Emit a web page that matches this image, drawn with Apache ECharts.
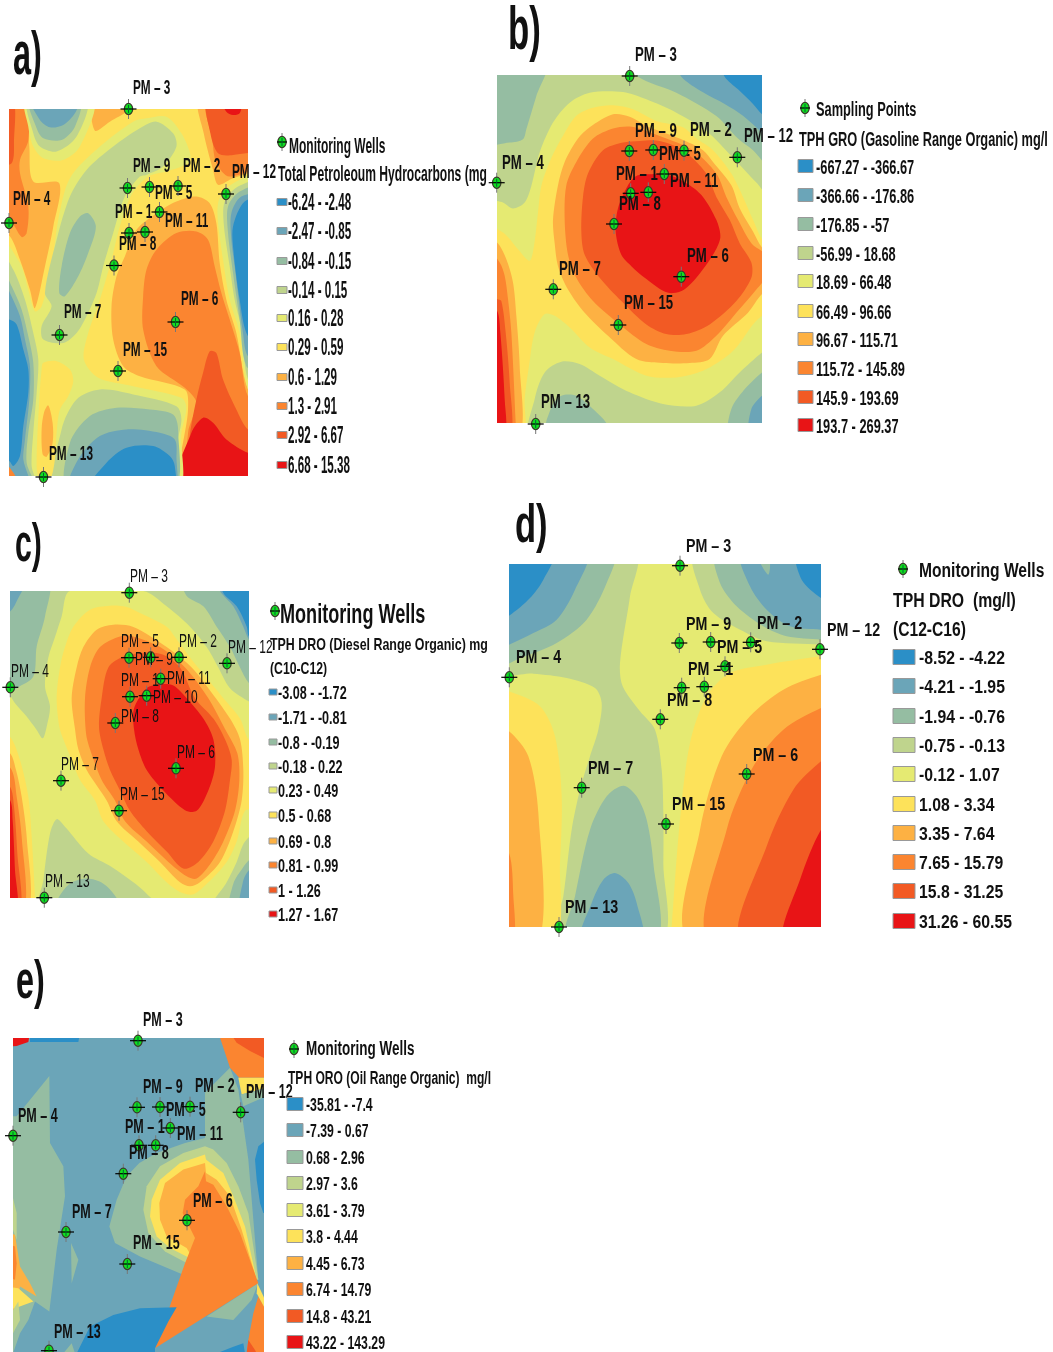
<!DOCTYPE html>
<html><head><meta charset="utf-8">
<style>html,body{margin:0;padding:0;background:#fff}#c{width:1053px;height:1352px}</style>
<script src="https://cdn.jsdelivr.net/npm/echarts@6/dist/echarts.min.js"></script>
</head><body><div id="c"></div>
<script>
const classColors=['#2b8fc7','#6ba5b8','#95bda2','#bfd48d','#e5ea72','#fde25a','#fdb143','#fb8530','#f25a24','#e81416'];

// Contour bands: [class, x,y, x,y, ...] in map units, painted in order.
const contoursA=[
[6,280,300,285,392,330,365,385,330,390,300],
[6,-10,300,78,300,88,440,100,545,178,550,160,680,135,800,105,925,90,870,60,780,30,710,-10,690],
[7,-10,300,78,300,85,420,60,480,60,520,85,620,80,700,65,712,30,660,-10,640],
[8,-10,300,40,300,42,420,35,490,-10,490],
[6,600,300,612,400,640,510,655,555,690,540,790,490,790,300],
[7,622,300,638,420,650,490,690,530,790,480,790,300],
[8,625,300,632,400,655,460,700,465,790,440,790,300],
[9,665,300,680,335,700,345,720,340,725,300],
[6,375,770,410,690,470,640,530,605,590,590,630,610,650,670,660,790,680,900,710,1000,745,1170,790,1200,790,1470,550,1470,565,1225,555,1170,420,1130,370,1100,340,1020,335,920,350,830],
[7,440,810,470,750,530,700,590,695,625,720,645,800,665,880,690,960,720,1060,745,1190,790,1200,790,1470,570,1470,565,1300,590,1210,555,1165,470,1100,430,990,430,890],
[8,590,1200,610,1120,630,1055,650,1060,670,1140,710,1230,745,1290,790,1300,790,1470,560,1470,570,1310],
[9,530,1470,575,1300,610,1255,640,1270,680,1320,745,1360,790,1365,790,1470],
[4,-10,705,60,790,85,870,105,935,125,920,155,800,175,660,210,535,300,440,400,365,440,355,500,350,545,400,572,465,565,490,500,515,445,530,395,585,360,680,335,780,300,900,265,1000,252,1080,295,1135,400,1160,545,1195,560,1225,545,1300,530,1470,-10,1470],
[4,78,300,85,380,100,440,130,475,190,480,240,440,280,300],
[4,790,515,720,540,675,570,655,610,655,670,670,780,690,900,720,1000,745,1170,790,1190],
[3,530,440,490,500,440,525,420,530,375,590,340,700,310,800,290,880,255,960,230,1000,190,1030,130,1020,125,980,155,920,135,880,170,720,210,590,260,510,340,440,420,385,470,365,520,400],
[3,170,1470,185,1290,230,1200,300,1170,400,1185,530,1220,545,1260,530,1340,520,1470],
[3,85,300,100,400,120,440,170,455,230,410,260,300],
[3,790,545,715,560,675,605,672,670,690,800,705,900,728,1000,745,1140,790,1160],
[3,-10,740,40,810,75,900,100,1000,115,1080,110,1180,100,1300,95,1400,110,1470,-10,1470],
[2,90,300,110,385,130,415,185,420,225,380,240,300],
[2,265,640,240,650,210,700,185,800,178,880,195,890,235,830,265,760,288,680],
[2,205,1470,210,1330,270,1250,350,1225,450,1230,520,1245,535,1290,520,1470],
[2,790,560,720,575,685,620,685,700,700,820,720,960,740,1100,790,1120],
[2,-10,770,35,860,65,930,85,1010,100,1090,100,1200,85,1300,80,1390,105,1470,-10,1470],
[1,95,300,120,360,150,382,190,375,225,340,235,300],
[1,210,1470,235,1380,300,1310,380,1290,480,1300,525,1320,530,1370,520,1470],
[1,790,590,725,590,695,640,695,720,705,800,730,1000,745,1070,790,1080],
[1,-10,795,30,880,60,950,75,1020,90,1100,88,1200,75,1320,70,1380,90,1470,-10,1470],
[0,268,1470,320,1390,380,1345,460,1340,510,1370,525,1400,520,1470],
[0,790,600,735,605,700,680,702,760,720,900,745,1010,790,1020],
[0,-10,960,27,960,50,975,70,1050,85,1110,85,1180,70,1280,60,1370,40,1400,27,1385,-10,1385],
[5,125,1110,130,1090,170,1085,210,1110,220,1145,205,1190,180,1230,170,1300,165,1380,150,1440,120,1440,110,1400,118,1200],
[6,145,1218,158,1270,158,1330,140,1372,128,1365,125,1290,132,1240],
[7,-10,1395,25,1400,60,1470,-10,1470]
];
const contoursB=[
[3,-10,190,850,190,850,600,800,550,725,470,650,395,560,340,470,300,400,278,300,280,240,310,190,370,150,460,125,560,105,610,70,628,40,610,-10,590],
[3,125,1310,135,1200,165,1120,215,1088,270,1095,330,1130,420,1180,520,1215,620,1220,690,1180,750,1120,817,1060,850,1040,850,1310],
[2,-10,190,170,190,140,290,110,390,100,420,60,430,-10,430],
[2,430,190,445,232,560,280,680,350,745,418,790,453,850,510,850,190],
[2,170,1310,185,1225,215,1190,260,1190,310,1230,350,1272,360,1310],
[2,720,1310,725,1230,770,1165,817,1120,850,1100,850,1310],
[1,565,190,575,232,640,279,705,314,760,349,817,400,850,430,850,190],
[1,780,1310,785,1230,817,1190,850,1170,850,1310],
[0,695,190,705,232,745,270,790,314,817,345,850,370,850,190],
[5,-10,685,40,700,85,750,120,785,133,740,145,640,155,560,180,488,215,418,260,349,310,325,370,318,430,330,500,365,580,384,620,418,670,453,725,523,760,593,790,662,817,720,850,750,850,930,817,950,790,976,740,1045,700,1080,640,1115,560,1135,470,1130,370,1080,300,1045,240,985,195,950,165,945,135,1000,118,1100,105,1200,100,1310,-10,1310],
[6,370,345,300,384,265,418,225,488,205,558,190,662,195,732,205,801,235,871,285,941,355,1010,440,1080,520,1092,600,1092,660,1080,700,1010,775,941,817,885,850,870,850,770,817,745,790,697,750,627,725,558,670,488,640,453,570,418,480,384,420,352],
[7,420,382,370,388,310,418,260,488,230,558,225,662,235,767,260,836,310,906,390,976,470,1035,540,1055,620,1055,680,1010,740,941,800,871,830,830,830,770,785,732,745,662,710,593,680,523,610,453,530,418,470,395],
[8,450,425,400,430,340,453,295,523,280,593,275,697,285,767,330,836,395,906,470,976,530,1005,590,1005,660,976,740,906,785,836,785,790,750,732,720,662,680,593,650,523,580,453,510,425],
[9,485,525,440,530,415,558,385,627,378,697,395,767,425,801,465,836,520,875,550,882,585,870,620,836,670,767,692,715,680,662,640,593,600,558,540,528],
[6,-10,725,22,730,50,780,70,850,80,950,90,1100,90,1310,-10,1310],
[7,-10,748,30,790,45,830,55,900,65,1000,78,1272,78,1310,-10,1310],
[8,-10,880,22,900,35,906,48,1000,60,1150,62,1310,-10,1310],
[9,-10,930,22,935,32,1000,45,1200,45,1310,-10,1310]
];
const contoursC=[
[3,-10,180,780,180,780,560,747,545,690,505,655,443,620,382,570,321,500,260,430,214,210,214,185,290,165,352,145,413,135,500,150,560,140,620,128,655,110,630,80,590,45,550,30,528,-10,505],
[3,120,1170,130,1080,150,940,170,897,195,920,265,1000,335,1040,400,1086,440,1120,480,1170],
[3,630,1170,680,1086,710,1025,735,964,780,930,780,1170],
[2,-10,180,145,180,135,290,110,380,100,470,50,505,30,520,-10,525],
[2,550,180,560,229,610,260,650,321,690,382,720,443,747,490,780,510,780,180],
[2,165,1170,175,1133,210,1090,260,1075,310,1090,350,1133,360,1170],
[2,690,1170,700,1090,730,1040,747,1020,780,1000,780,1170],
[1,-10,180,75,180,50,245,30,275,-10,280],
[1,655,180,660,214,700,260,730,321,747,360,780,395,780,180],
[1,720,1170,730,1080,747,1050,780,1030,780,1170],
[0,665,180,670,220,710,260,740,320,747,350,780,370,780,180],
[5,330,258,270,270,220,321,195,382,180,443,170,535,178,620,190,658,215,719,240,780,285,841,310,903,370,964,440,1025,500,1086,540,1115,580,1122,625,1086,680,1025,710,964,735,872,780,860,780,680,745,658,720,596,670,535,620,474,570,413,525,352,500,321,420,280,380,262],
[6,340,315,290,330,250,382,230,443,215,535,225,627,235,688,260,750,320,841,350,903,415,964,480,1025,540,1086,570,1098,600,1086,660,1025,700,933,725,841,730,750,720,658,690,596,625,505,575,443,500,382,400,322],
[7,360,350,300,382,270,443,255,535,258,640,270,688,305,780,345,841,375,903,440,964,505,1025,560,1068,590,1075,635,1025,670,964,705,872,718,780,712,700,675,627,625,535,555,443,480,382,400,350],
[8,440,398,370,410,325,443,305,535,297,620,310,688,330,750,360,811,390,872,440,933,500,994,550,1045,595,1025,640,964,675,872,690,780,695,719,675,658,640,596,585,535,540,443,490,405],
[9,480,493,440,505,402,566,402,627,415,688,440,750,490,811,555,870,590,872,625,811,645,740,640,658,610,596,560,535,520,497],
[5,-10,640,30,650,60,720,85,830,95,950,105,1133,105,1170,-10,1170],
[6,-10,690,30,700,48,750,65,830,80,950,85,1170,-10,1170],
[7,-10,715,35,750,50,830,65,950,72,1170,-10,1170],
[8,-10,780,30,800,42,860,52,1000,60,1170,-10,1170],
[9,-10,815,30,840,38,900,45,1050,50,1170,-10,1170]
];
const contoursD=[
[3,-10,70,405,70,390,200,360,400,368,470,420,545,465,600,485,720,490,850,490,1000,485,1230,165,1230,190,1100,215,900,240,780,270,680,295,600,305,520,285,475,200,445,100,432,-10,428],
[3,585,70,600,180,640,250,730,305,800,335,963,345,1000,348,1000,70],
[2,-10,70,340,70,320,160,260,270,170,340,60,385,-10,408],
[2,650,70,660,160,710,230,790,290,860,320,963,330,1000,332,1000,70],
[2,200,1230,225,1100,270,900,320,800,370,768,410,800,440,870,460,1000,468,1230],
[1,-10,70,260,70,225,180,170,270,100,310,27,345,-10,355],
[1,725,70,750,170,800,240,870,290,963,300,1000,300,1000,70],
[2,778,90,805,135,808,90],
[1,245,1230,275,1120,310,1050,345,1030,385,1060,410,1120,425,1230],
[0,-10,70,160,70,130,150,90,205,27,258,-10,270],
[0,890,70,905,150,963,205,1000,220,1000,70],
[5,1000,378,963,380,800,405,690,430,620,500,570,640,540,870,515,1192,515,1230,1000,1230],
[6,1000,432,963,435,850,480,750,560,665,680,600,900,565,1230,1000,1230],
[7,1000,530,963,535,850,600,760,710,680,900,625,1230,1000,1230],
[8,1000,680,963,695,880,780,800,950,720,1230,1000,1230],
[9,1000,880,963,900,900,1050,850,1230,1000,1230],
[5,-10,480,27,485,120,530,165,620,185,800,180,1000,165,1230,-10,1230],
[6,-10,600,27,605,85,680,115,850,118,1230,-10,1230],
[7,-10,965,27,970,40,1100,40,1230,-10,1230]
];
const contoursE=[
[0,90,100,240,100,235,128,90,128],
[9,20,100,90,100,85,128,50,140,20,142],
[2,148,230,150,430,190,500,195,590,170,750,148,935,105,905,85,960,60,1000,39,1060,20,1060,20,350,50,350],
[3,20,590,39,595,50,640,50,720,39,690,20,690],
[6,20,700,45,705,60,800,90,850,110,890,60,860,50,930,20,930],
[7,20,730,45,740,50,790,45,840,20,830],
[5,20,860,55,865,100,905,45,925,20,930],
[3,39,930,55,905,60,960,39,1000],
[2,213,730,235,780,215,850],
[2,690,205,715,270,745,480,775,840,550,825,420,770,345,730,328,680,350,600,380,530,418,490,470,460,555,430,615,415,615,280],
[7,655,100,800,100,800,235,718,235,690,205],
[8,690,100,800,100,800,180,750,155,710,130],
[5,715,235,800,235,800,265,725,285],
[2,722,285,800,265,800,290,730,320],
[0,800,420,775,440,765,480,770,540,780,610,790,640,800,640],
[3,615,440,550,460,480,500,440,560,430,630,445,700,495,755,570,795,775,840,745,640,715,560,680,490,640,450],
[5,615,465,540,490,480,540,455,600,450,650,470,710,510,745,570,775,770,840,735,680,700,590,670,520,618,480],
[6,615,490,550,510,495,550,478,610,480,660,500,710,560,745,575,770,770,840,725,690,690,590,650,540,618,520],
[7,615,515,595,560,555,600,548,640,585,715,555,790,465,1045,775,850,720,700,680,620,640,555,618,545],
[2,775,850,620,950,700,960,755,900],
[0,230,1060,270,980,340,945,420,925,530,922,505,965,465,1045,465,1060],
[0,650,1060,700,1040,730,1030,735,1060],
[7,775,890,800,930,800,1060,740,1060,745,1020,760,940],
[8,745,1020,765,1050,770,1060,740,1060],
[5,772,850,800,910,800,935,770,880],
[2,190,1060,215,1030,225,1060]
];

const wellNamesA=['PM – 3','PM – 9','PM – 5','PM – 2','PM – 12','PM – 4','PM – 11','PM – 1','PM – 8','','PM – 7','PM – 6','PM – 15','PM – 13'];
const wellEastA=[128.5,127.5,149.5,178,226,9,159.5,129,145,114,59.5,175.5,118,43.5];
const wellSouthA=[109,188,187,186,194,223,212,233,232,265.5,335,322,371,477];
const wellNamesB=['PM – 3','PM – 9','PM – 5','PM – 2','PM – 12','PM – 4','PM – 11','PM – 1','PM – 8','','PM – 7','PM – 6','PM – 15','PM – 13'];
const wellEastB=[629.7,629.3,653.3,684,737.3,496.7,664.3,630.7,648.3,614,553.3,681.3,618.3,535.7];
const wellSouthB=[76,151,150,150.7,157.3,182.7,174,193.3,192.3,224,289.3,276.7,325,424];
const wellNamesC=['PM – 3','PM – 5','PM – 9','PM – 2','PM – 12','PM – 4','PM – 11','PM – 1','PM – 10','PM – 8','PM – 7','PM – 6','PM – 15','PM – 13'];
const wellEastC=[129.3,129,150.7,179,227,10.3,160.7,130,146.7,115.3,61,176,119,44.3];
const wellSouthC=[592.7,657.7,657.3,657.3,663.3,687.3,678.7,696.7,695.7,723,780.7,768.3,810.7,897.7];
const wellNamesD=['PM – 3','PM – 9','PM – 5','PM – 2','PM – 12','PM – 4','PM – 1','','PM – 8','','PM – 7','PM – 6','PM – 15','PM – 13'];
const wellEastD=[680,679.3,710.7,750.7,820,509.3,725,681.7,704.3,660.3,581.7,746.7,666,559];
const wellSouthD=[565.7,643,642,642.3,649.3,677.3,666.3,687.7,686.7,719.3,787.7,774,824,927];
const wellNamesE=['PM – 3','PM – 9','PM – 5','PM – 2','PM – 12','PM – 4','PM – 11','PM – 1','PM – 8','','PM – 7','PM – 6','PM – 15','PM – 13'];
const wellEastE=[138,137,160,190,240.7,13,170.3,139,155.7,123.3,66,187,127.3,49];
const wellSouthE=[1040.7,1107.3,1107,1106.7,1112.3,1135.7,1128,1145.3,1145.3,1173.7,1232,1220.3,1264,1350.7];

const legendA=['-6.24 - -2.48','-2.47 - -0.85','-0.84 - -0.15','-0.14 - 0.15','0.16 - 0.28','0.29 - 0.59','0.6 - 1.29','1.3 - 2.91','2.92 - 6.67','6.68 - 15.38'];
const legendB=['-667.27 - -366.67','-366.66 - -176.86','-176.85 - -57','-56.99 - 18.68','18.69 - 66.48','66.49 - 96.66','96.67 - 115.71','115.72 - 145.89','145.9 - 193.69','193.7 - 269.37'];
const legendC=['-3.08 - -1.72','-1.71 - -0.81','-0.8 - -0.19','-0.18 - 0.22','0.23 - 0.49','0.5 - 0.68','0.69 - 0.8','0.81 - 0.99','1 - 1.26','1.27 - 1.67'];
const legendD=['-8.52 - -4.22','-4.21 - -1.95','-1.94 - -0.76','-0.75 - -0.13','-0.12 - 1.07','1.08 - 3.34','3.35 - 7.64','7.65 - 15.79','15.8 - 31.25','31.26 - 60.55'];
const legendE=['-35.81 - -7.4','-7.39 - 0.67','0.68 - 2.96','2.97 - 3.6','3.61 - 3.79','3.8 - 4.44','4.45 - 6.73','6.74 - 14.79','14.8 - 43.21','43.22 - 143.29'];

const NARROW="'Liberation Sans Narrow','Liberation Sans',sans-serif";
const panels=[
 {tag:'a)',tagPos:[13,56],tagF:[58,.56,1.05],contours:contoursA,base:5,smooth:.3,units:[27,745,327,1430],names:wellNamesA,east:wellEastA,south:wellSouthA,legend:legendA,
  rect:[9,109,239,367],
  labelPos:[[133,87],[133,165],[155,192],[183,165],[232,171],[13,198],[165,220],[115,211],[119,243],null,[64,311],[181,298],[123,349],[49,453]],
  labelF:[20,.59,1.05,'bold'],
  marker:[282,142],
  heads:[['Monitoring Wells',289,146,[20,.60,1.1,'bold']],['Total Petroleoum Hydrocarbons (mg',278,174,[20,.605,1.1,'bold']]],
  sw:[277,10,7],tx:288,ys:[203,232,262,291,319,348,378,407,436,466],legF:[20,.58,1.15,'bold']},
 {tag:'b)',tagPos:[508,31],tagF:[58,.6,1.05],contours:contoursB,base:4,smooth:.3,units:[22,817,227,1272],names:wellNamesB,east:wellEastB,south:wellSouthB,legend:legendB,
  rect:[497,75,265,348],
  labelPos:[[635,54],[635,130],[659,153],[690,129],[744,135],[502,162],[670,180],[616,173],[619,203],null,[559,268],[687,255],[624,302],[541,401]],
  labelF:[20,.66,1,'bold'],
  marker:[805,108],
  heads:[['Sampling Points',816,109,[20,.64,1,'bold']],['TPH GRO (Gasoline Range Organic) mg/l',799,139,[20,.64,1,'bold']]],
  sw:[798,15,13],tx:816,ys:[167,196,225,254,282,312,340,369,398,426],legF:[20,.64,1,'bold']},
 {tag:'c)',tagPos:[15,545],tagF:[54,.56,1],contours:contoursC,base:4,smooth:.3,units:[30,747,214,1133],names:wellNamesC,east:wellEastC,south:wellSouthC,legend:legendC,
  rect:[10,591,239,307],
  labelPos:[[130,576],[121,641],[135,659],[179,641],[228,647],[11,671],[167,678],[121,680],[153,697],[121,716],[61,764],[177,752],[120,794],[45,881]],
  labelF:[19,.63,.95,'normal'],
  marker:[275,611],
  heads:[['Monitoring Wells',280,614,[27,.67,1.05,'bold']],['TPH DRO (Diesel Range Organic) mg',270,644,[17,.73,1,'bold']],['(C10-C12)',270,668,[17,.72,1,'bold']]],
  sw:[269,8,6],tx:278,ys:[693,718,743,767,791,816,842,866,891,915],legF:[18,.70,1.05,'bold']},
 {tag:'d)',tagPos:[515,526],tagF:[54,.64,1],contours:contoursD,base:4,smooth:.3,units:[27,963,103,1192],names:wellNamesD,east:wellEastD,south:wellSouthD,legend:legendD,
  rect:[509,564,312,363],
  labelPos:[[686,546],[686,624],[717,647],[757,623],[827,630],[516,657],[688,669],null,[667,700],null,[588,768],[753,755],[672,804],[565,907]],
  labelF:[19,.75,.95,'bold'],
  marker:[903,569],
  heads:[['Monitoring Wells',919,570,[20,.78,1,'bold']],['TPH DRO  (mg/l)',893,600,[20,.79,1,'bold']],['(C12-C16)',893,629,[20,.78,1,'bold']]],
  sw:[893,22,15],tx:919,ys:[658,687,717,746,775,805,834,863,892,922],legF:[19,.83,1,'bold']},
 {tag:'e)',tagPos:[16,982],tagF:[54,.6,1],contours:contoursE,base:1,smooth:0,units:[39,792,116,1056],names:wellNamesE,east:wellEastE,south:wellSouthE,legend:legendE,
  rect:[13,1038,251,314],
  labelPos:[[143,1020],[143,1087],[166,1110],[195,1086],[246,1092],[18,1116],[177,1134],[125,1127],[129,1153],null,[72,1212],[193,1201],[133,1243],[54,1332]],
  labelF:[19,.66,1.05,'bold'],
  marker:[294,1049],
  heads:[['Monitoring Wells',306,1049,[19,.71,1.05,'bold']],['TPH ORO (Oil Range Organic)  mg/l',288,1078,[18,.67,1.05,'bold']]],
  sw:[287,16,13],tx:306,ys:[1105,1131,1158,1184,1211,1237,1264,1290,1317,1343],legF:[18,.68,1.05,'bold']}
];

function textEl(str,x,y,f){
  return {type:'text',x:x,y:y+1,scaleX:f[1],scaleY:f[2],silent:true,
    style:{text:str,fill:'#111',font:(f[3]||'bold')+' '+f[0]+'px '+NARROW,textAlign:'left',textVerticalAlign:'middle'}};
}
function markerEls(x,y,hw,vh){
  return [
   {type:'line',shape:{x1:x,y1:y-vh,x2:x,y2:y+vh},style:{stroke:'#777',lineWidth:1}},
   {type:'ellipse',shape:{cx:x,cy:y,rx:4.2,ry:5.6},style:{fill:'#10e020',stroke:'#3a3a2a',lineWidth:1.2}},
   {type:'line',shape:{x1:x-hw,y1:y,x2:x+hw,y2:y},style:{stroke:'#000',lineWidth:1.2}},
   {type:'line',shape:{x1:x,y1:y-4,x2:x,y2:y+4},style:{stroke:'#063',lineWidth:1}}
  ];
}

const grids=[],xAxes=[],yAxes=[],series=[],graphics=[];
panels.forEach((p,i)=>{
  const [l,t,w,h]=p.rect;
  grids.push({left:l,top:t,width:w,height:h,show:true,borderWidth:0,backgroundColor:classColors[p.base]});
  const hidden={show:false,axisLine:{show:false},axisTick:{show:false},axisLabel:{show:false},splitLine:{show:false}};
  xAxes.push({type:'value',gridIndex:i,min:p.units[0],max:p.units[1],...hidden});
  yAxes.push({type:'value',gridIndex:i,inverse:true,min:p.units[2],max:p.units[3],...hidden});
  xAxes.push({type:'value',gridIndex:i,min:l,max:l+w,...hidden});
  yAxes.push({type:'value',gridIndex:i,inverse:true,min:t,max:t+h,...hidden});
  series.push({type:'custom',xAxisIndex:i*2,yAxisIndex:i*2,clip:true,z:1,silent:true,
    data:p.contours.map((c,k)=>[c[1],c[2],k]),encode:{x:0,y:1},
    renderItem:(params,api)=>{
      const c=p.contours[params.dataIndex],pts=[];
      for(let j=1;j<c.length;j+=2)pts.push(api.coord([c[j],c[j+1]]));
      return {type:'polygon',shape:{points:pts,smooth:p.smooth},style:{fill:classColors[c[0]],stroke:null}};
    }});
  series.push({type:'custom',xAxisIndex:i*2+1,yAxisIndex:i*2+1,clip:false,z:5,silent:true,
    data:p.east.map((e,k)=>[e,p.south[k]]),encode:{x:0,y:1},
    renderItem:(params,api)=>{
      const pt=api.coord([api.value(0),api.value(1)]);
      const k=params.dataIndex;
      const kids=markerEls(pt[0],pt[1],8,10);
      if(p.labelPos[k]&&p.names[k])kids.push(textEl(p.names[k],p.labelPos[k][0],p.labelPos[k][1],p.labelF));
      return {type:'group',children:kids};
    }});
  graphics.push(Object.assign(textEl(p.tag,p.tagPos[0],p.tagPos[1],p.tagF),{z:10}));
  graphics.push({type:'group',silent:true,z:10,children:markerEls(p.marker[0],p.marker[1],5,9)});
  p.heads.forEach(hd=>graphics.push(Object.assign(textEl(hd[0],hd[1],hd[2],hd[3]),{z:10})));
  p.legend.forEach((txt,k)=>{
    graphics.push({type:'rect',z:10,silent:true,shape:{x:p.sw[0],y:p.ys[k]-p.sw[2]/2-1,width:p.sw[1],height:p.sw[2]},
      style:{fill:classColors[k],stroke:'#999',lineWidth:1}});
    graphics.push(Object.assign(textEl(txt,p.tx,p.ys[k],p.legF),{z:10}));
  });
});

const chart=echarts.init(document.getElementById('c'),null,{width:1053,height:1352,renderer:'canvas'});
chart.setOption({
  animation:false,backgroundColor:'#fff',
  grid:grids,xAxis:xAxes,yAxis:yAxes,series:series,graphic:{elements:graphics}
});
</script></body></html>
